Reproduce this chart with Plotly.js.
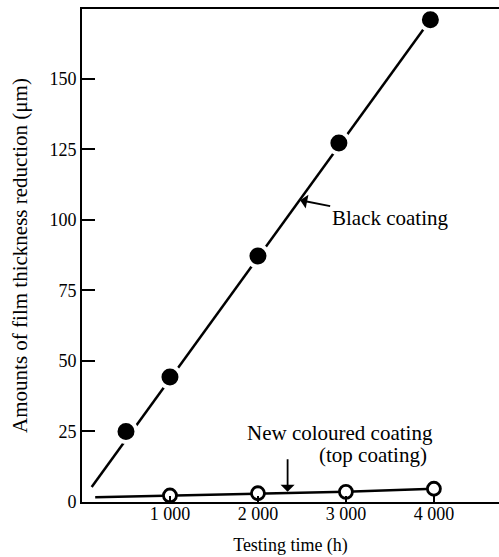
<!DOCTYPE html>
<html>
<head>
<meta charset="utf-8">
<script src="https://cdn.plot.ly/plotly-3.0.1.min.js"></script>
<style>html,body{margin:0;padding:0;background:#fff;}#chart{width:499px;height:557px;}</style>
</head>
<body>
<div id="chart"></div>
<script>
// Black coating measurements
const blackX = [500, 1000, 2000, 2920, 3960];
const blackY = [25, 44.3, 87.2, 127.3, 171];
// Black coating fitted line
const fitX = [110, 3960];
const fitY = [5.3, 171];
// New coloured coating (top coating)
const newX = [1000, 2000, 3000, 4000];
const newY = [2.3, 3.1, 3.6, 4.7];
const newLineX = [150, 1000, 2000, 3000, 4000];
const newLineY = [1.7, 2.3, 3.1, 3.6, 4.7];
// Axis ticks
const xTickVals = [1000, 2000, 3000, 4000];
const xTickText = ['1 000', '2 000', '3 000', '4 000'];
const yTickVals = [0, 25, 50, 75, 100, 125, 150];
const yTickText = ['0', '25', '50', '75', '100', '125', '150'];

const FONT = '"Liberation Serif", "DejaVu Serif", serif';

const traces = [
  {x: fitX, y: fitY, mode: 'lines', line: {color: '#000', width: 2.5}, showlegend: false, hoverinfo: 'skip'},
  {x: blackX, y: blackY, mode: 'markers', marker: {color: '#000', size: 21, line: {color: '#fff', width: 4}}, showlegend: false},
  {x: newLineX, y: newLineY, mode: 'lines', line: {color: '#000', width: 2.5}, showlegend: false, hoverinfo: 'skip'},
  {x: newX, y: newY, mode: 'markers', marker: {color: '#fff', size: 13, line: {color: '#000', width: 2.8}}, showlegend: false}
];

const layout = {
  width: 499, height: 557,
  margin: {l: 82, r: 0, t: 9, b: 55},
  paper_bgcolor: '#fff', plot_bgcolor: '#fff',
  font: {family: FONT, color: '#000', size: 18},
  xaxis: {
    range: [0, 4740], tickvals: xTickVals, ticktext: xTickText,
    ticks: 'inside', ticklen: 6, tickwidth: 2, tickcolor: '#000',
    ticklabelstandoff: -6,
    showline: true, linecolor: '#000', linewidth: 2, mirror: true,
    showgrid: false, zeroline: false,
    tickfont: {family: FONT, size: 18},
    title: {text: 'Testing time (h)', font: {family: FONT, size: 18}, standoff: 16}
  },
  yaxis: {
    range: [0, 174.8], tickvals: yTickVals, ticktext: yTickText,
    ticks: 'inside', ticklen: 13, tickwidth: 2, tickcolor: '#000',
    showline: true, linecolor: '#000', linewidth: 2,
    showgrid: false, zeroline: false,
    tickfont: {family: FONT, size: 18},
    title: {text: 'Amounts of film thickness reduction (\u03bcm)', font: {family: FONT, size: 21}, standoff: 16}
  },
  annotations: [
    {x: 2480, y: 107, xref: 'x', yref: 'y', text: 'Black coating', showarrow: true,
     arrowhead: 1, arrowsize: 1.3, arrowwidth: 1.8, arrowcolor: '#000', ax: 90, ay: 18,
     font: {family: FONT, size: 21}},
    {x: 2930, y: 24.5, xref: 'x', yref: 'y', text: 'New coloured coating', showarrow: false,
     font: {family: FONT, size: 21}},
    {x: 3303, y: 16.7, xref: 'x', yref: 'y', text: '(top coating)', showarrow: false,
     font: {family: FONT, size: 21}},
    {x: 2337, y: 3.6, xref: 'x', yref: 'y', text: '', showarrow: true,
     arrowhead: 1, arrowsize: 1.3, arrowwidth: 1.8, arrowcolor: '#000', ax: 0, ay: -34}
  ]
};

Plotly.newPlot('chart', traces, layout, {staticPlot: true, displayModeBar: false});
</script>
</body>
</html>
